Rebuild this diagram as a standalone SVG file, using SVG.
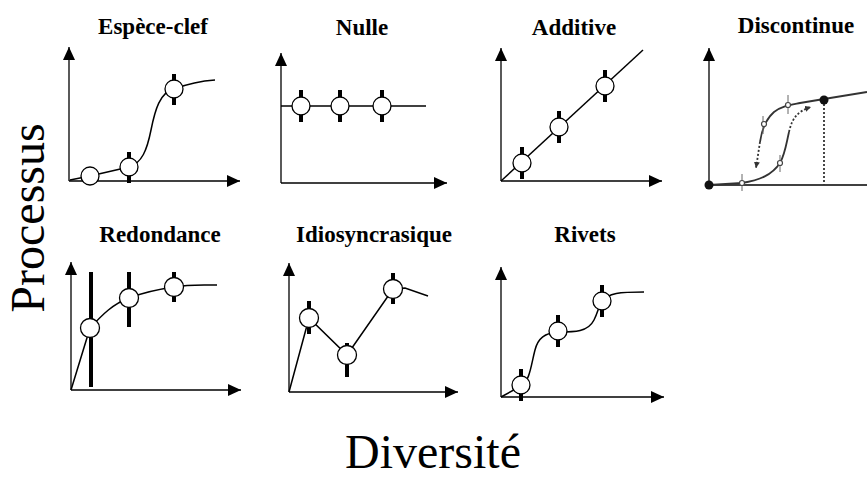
<svg xmlns="http://www.w3.org/2000/svg" width="867" height="477" viewBox="0 0 867 477">
<defs>
<marker id="ah" markerUnits="userSpaceOnUse" markerWidth="14" markerHeight="12" refX="13" refY="6" orient="auto">
<path d="M0,0 L13,6 L0,12 z" fill="#000"/>
</marker>
<marker id="ahs" markerUnits="userSpaceOnUse" markerWidth="8" markerHeight="8" refX="6" refY="3" orient="auto">
<path d="M0,0 L6,3 L0,6 z" fill="#333"/>
</marker>
<style>
.title{font-family:"Liberation Serif","Times New Roman",serif;font-weight:bold;font-size:23px;text-anchor:middle;fill:#000}
.big{font-family:"Liberation Serif","Times New Roman",serif;font-size:48px;text-anchor:middle;fill:#000}
.axis{stroke:#000;stroke-width:1.3;fill:none;marker-end:url(#ah)}
.curve{stroke:#000;stroke-width:1.5;fill:none}
.bar{stroke:#000;stroke-width:4}
.pt{fill:#fff;stroke:#000;stroke-width:1.3}
.g{stroke:#333;fill:none;stroke-width:1.8}
.gbar{stroke:#666;stroke-width:1}
.gpt{fill:#fff;stroke:#444;stroke-width:1.2}
.dot{stroke:#333;stroke-width:1.8;fill:none;stroke-dasharray:2 2}
</style>
</defs>
<rect width="867" height="477" fill="#fff"/>

<g id="espece-clef">
<text class="title" x="153" y="34">Espèce-clef</text>
<line class="axis" x1="69" y1="181" x2="69" y2="47"/>
<line class="axis" x1="69" y1="181" x2="240" y2="181"/>
<path class="curve" d="M70,180 L90,176 L129,167 C142,163 147,150 151,130 S160,92 174,89 C190,83 200,81 215,80"/>
<line class="bar" x1="129" y1="152" x2="129" y2="183"/>
<line class="bar" x1="174" y1="74" x2="174" y2="105"/>
<circle class="pt" cx="90" cy="176" r="9"/>
<circle class="pt" cx="129" cy="167" r="9"/>
<circle class="pt" cx="174" cy="89" r="9"/>
</g>

<g id="nulle">
<text class="title" x="362" y="35">Nulle</text>
<line class="axis" x1="281" y1="183" x2="281" y2="53"/>
<line class="axis" x1="281" y1="183" x2="447" y2="183"/>
<line class="curve" x1="281" y1="106" x2="426" y2="106"/>
<line class="bar" x1="301" y1="90" x2="301" y2="122"/>
<line class="bar" x1="340" y1="90" x2="340" y2="122"/>
<line class="bar" x1="382" y1="90" x2="382" y2="122"/>
<circle class="pt" cx="301" cy="106" r="9"/>
<circle class="pt" cx="340" cy="106" r="9"/>
<circle class="pt" cx="382" cy="106" r="9"/>
</g>

<g id="additive">
<text class="title" x="574" y="35">Additive</text>
<line class="axis" x1="501" y1="181" x2="501" y2="48"/>
<line class="axis" x1="501" y1="181" x2="662" y2="181"/>
<line class="curve" x1="501" y1="181" x2="643" y2="50"/>
<line class="bar" x1="522" y1="147" x2="522" y2="179"/>
<line class="bar" x1="559" y1="111" x2="559" y2="143"/>
<line class="bar" x1="605" y1="70" x2="605" y2="102"/>
<circle class="pt" cx="522" cy="163" r="9"/>
<circle class="pt" cx="559" cy="127" r="9"/>
<circle class="pt" cx="605" cy="86" r="9"/>
</g>

<g id="discontinue">
<text class="title" x="796" y="33">Discontinue</text>
<line class="axis" x1="709" y1="185" x2="709" y2="48"/>
<line stroke="#000" stroke-width="1.3" x1="709" y1="185" x2="867" y2="185"/>
<line class="dot" x1="824" y1="100" x2="824" y2="185"/>
<path class="g" d="M867,92 L824,99 L800,103 C790,105 782,106 774,112 C766,119 762,128 760,142"/>
<path class="dot" d="M760,142 L756,168" marker-end="url(#ahs)"/>
<path class="g" d="M709,185 L742,183 C760,180 772,175 780,163 C785,154 786,145 789,132"/>
<path class="dot" d="M789,132 C792,118 798,111 811,107" marker-end="url(#ahs)"/>
<line class="gbar" x1="742" y1="174" x2="742" y2="191"/>
<line class="gbar" x1="780" y1="155" x2="780" y2="172"/>
<line class="gbar" x1="763" y1="116" x2="763" y2="134"/>
<line class="gbar" x1="788" y1="95" x2="788" y2="114"/>
<circle class="gpt" cx="742" cy="183" r="2.5"/>
<circle class="gpt" cx="780" cy="163" r="2.5"/>
<circle class="gpt" cx="764" cy="124" r="2.5"/>
<circle class="gpt" cx="788" cy="105" r="2.5"/>
<circle cx="824" cy="100" r="4.5" fill="#111"/>
<circle cx="709" cy="185" r="4.5" fill="#111"/>
</g>

<g id="redondance">
<text class="title" x="160" y="242">Redondance</text>
<line class="axis" x1="71" y1="390" x2="71" y2="262"/>
<line class="axis" x1="71" y1="390" x2="241" y2="390"/>
<path class="curve" d="M71,390 L90,328 C103,314 113,304 129,298 C145,292 160,289 174,287 C190,284 205,285 217,285"/>
<line class="bar" x1="91" y1="272" x2="91" y2="387" stroke-width="5"/>
<line class="bar" x1="129" y1="272" x2="129" y2="327" stroke-width="5"/>
<line class="bar" x1="174" y1="272" x2="174" y2="302"/>
<circle class="pt" cx="90" cy="328" r="9.5"/>
<circle class="pt" cx="129" cy="298" r="9.5"/>
<circle class="pt" cx="174" cy="287" r="9.5"/>
</g>

<g id="idiosyncrasique">
<text class="title" x="374" y="242">Idiosyncrasique</text>
<line class="axis" x1="289" y1="392" x2="289" y2="263"/>
<line class="axis" x1="289" y1="392" x2="458" y2="392"/>
<path class="curve" d="M289,392 L309,318 L347,355 L393,289 L405,288 L428,296"/>
<line class="bar" x1="309" y1="301" x2="309" y2="334"/>
<line class="bar" x1="347" y1="343" x2="347" y2="377"/>
<line class="bar" x1="393" y1="273" x2="393" y2="304"/>
<circle class="pt" cx="309" cy="318" r="9.5"/>
<circle class="pt" cx="347" cy="355" r="9.5"/>
<circle class="pt" cx="393" cy="289" r="9.5"/>
</g>

<g id="rivets">
<text class="title" x="585" y="242">Rivets</text>
<line class="axis" x1="501" y1="397" x2="501" y2="267"/>
<line class="axis" x1="501" y1="397" x2="664" y2="397"/>
<path class="curve" d="M501,397 L521,386 C530,381 531,365 535,350 C538,338 545,333 558,332 C575,332 588,332 594,320 C598,312 599,305 602,301 C608,293 620,292 644,292"/>
<line class="bar" x1="521" y1="369" x2="521" y2="401"/>
<line class="bar" x1="558" y1="315" x2="558" y2="347"/>
<line class="bar" x1="602" y1="285" x2="602" y2="317"/>
<circle class="pt" cx="521" cy="385" r="9"/>
<circle class="pt" cx="558" cy="331" r="9"/>
<circle class="pt" cx="602" cy="301" r="9"/>
</g>

<g id="labels">
<text class="big" transform="translate(44,218) rotate(-90)">Processus</text>
<text class="big" x="433" y="468" font-size="46">Diversité</text>
</g>
</svg>
